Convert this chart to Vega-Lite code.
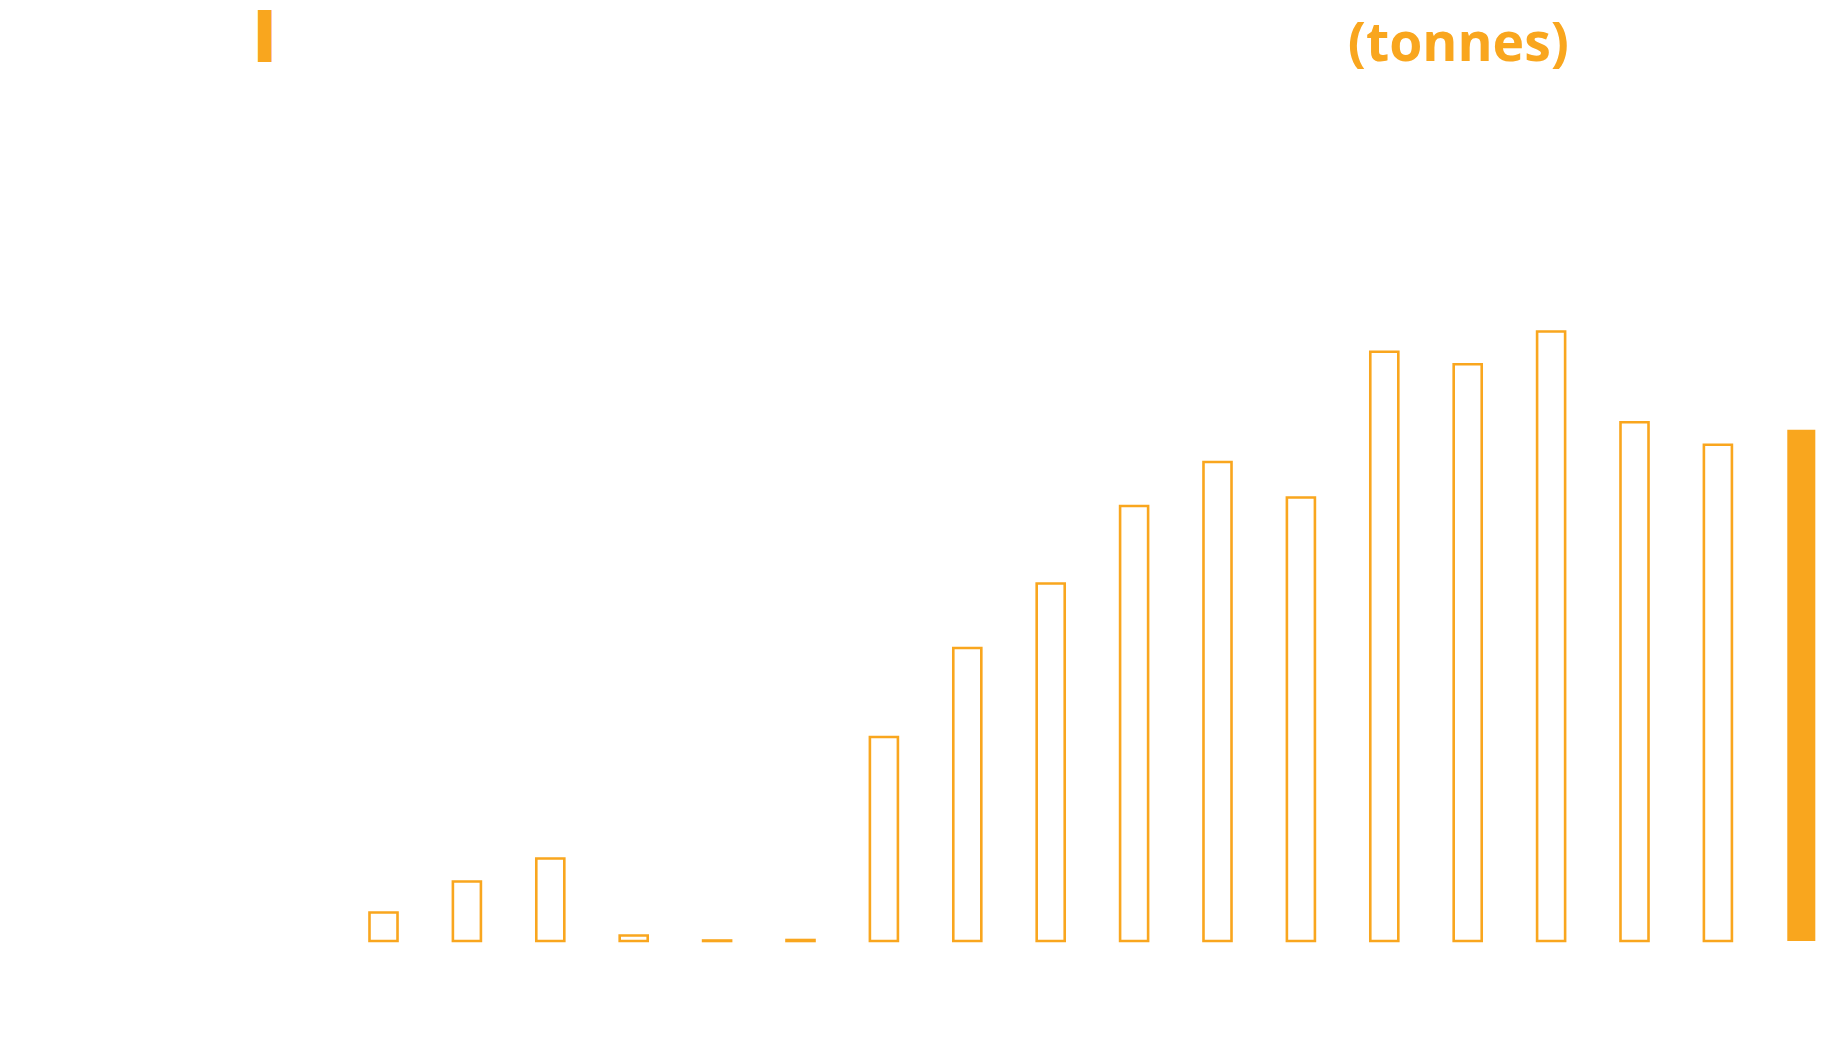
{
  "$schema": "https://vega.github.io/schema/vega-lite/v6.json",
  "autosize": "none",
  "padding": {"left": 341.8, "top": 100, "right": 2, "bottom": 113},
  "width": 1501.2,
  "height": 841,
  "background": "white",
  "data": {
    "values": [
      {"year": "2005", "tonnes": 28.5, "period": "historical"},
      {"year": "2006", "tonnes": 59.5, "period": "historical"},
      {"year": "2007", "tonnes": 82.5, "period": "historical"},
      {"year": "2008", "tonnes": 5.5, "period": "historical"},
      {"year": "2009", "tonnes": 0.5, "period": "historical"},
      {"year": "2010", "tonnes": 1, "period": "historical"},
      {"year": "2011", "tonnes": 204, "period": "historical"},
      {"year": "2012", "tonnes": 293, "period": "historical"},
      {"year": "2013", "tonnes": 357.5, "period": "historical"},
      {"year": "2014", "tonnes": 435, "period": "historical"},
      {"year": "2015", "tonnes": 479, "period": "historical"},
      {"year": "2016", "tonnes": 443.5, "period": "historical"},
      {"year": "2017", "tonnes": 589.2, "period": "historical"},
      {"year": "2018", "tonnes": 576.8, "period": "historical"},
      {"year": "2019", "tonnes": 609.5, "period": "historical"},
      {"year": "2020", "tonnes": 518.8, "period": "historical"},
      {"year": "2021", "tonnes": 496.2, "period": "historical"},
      {"year": "2022", "tonnes": 511.3, "period": "current"}
    ]
  },
  "encoding": {
    "x": {
      "field": "year",
      "type": "ordinal",
      "sort": null,
      "scale": {"paddingInner": 0.664, "paddingOuter": 0.332},
      "axis": {
        "orient": "top",
        "title": "(tonnes)",
        "labels": false,
        "ticks": false,
        "domain": false,
        "grid": false,
        "titleX": 1005.5,
        "titleY": -40,
        "titleAlign": "left",
        "titleBaseline": "alphabetic",
        "titleFont": "Open Sans",
        "titleFontSize": 53.5,
        "titleFontWeight": 700,
        "titleColor": "#F9A61E",
        "titlePadding": 0
      }
    },
    "y": {
      "field": "tonnes",
      "type": "quantitative",
      "scale": {"domain": [0, 841], "nice": false, "zero": true},
      "axis": {
        "title": "▌",
        "titleAngle": 0,
        "titleX": -83.8,
        "titleY": -49.3,
        "titleAlign": "left",
        "titleBaseline": "alphabetic",
        "titleFont": "DejaVu Sans Mono",
        "titleFontSize": 43.8,
        "titleFontWeight": "normal",
        "titleColor": "#F9A61E",
        "labels": false,
        "ticks": false,
        "domain": false,
        "grid": false
      }
    }
  },
  "layer": [
    {
      "transform": [{"filter": "datum.period === 'historical'"}],
      "mark": {"type": "bar", "fill": "white", "stroke": "#F9A61E", "strokeWidth": 2.6}
    },
    {
      "transform": [{"filter": "datum.period === 'current'"}],
      "mark": {"type": "bar", "fill": "#F9A61E", "strokeWidth": 0}
    }
  ],
  "config": {"view": {"stroke": null}}
}
